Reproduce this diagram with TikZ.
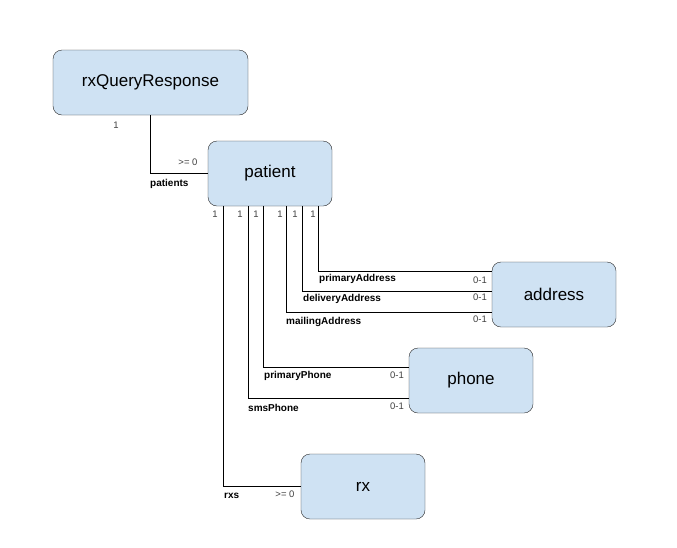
\documentclass[tikz,border=0pt]{standalone}
\usepackage{fontspec}
\setmainfont{Liberation Sans}
\usetikzlibrary{positioning}
\definecolor{boxfill}{HTML}{CFE2F3}
\tikzset{
  box/.style={draw=black!85, fill=boxfill, rounded corners=9pt, font=\fontsize{17}{20}\selectfont},
  lbl/.style={font=\bfseries\fontsize{10}{12}\selectfont, inner sep=1pt, anchor=west},
  card/.style={font=\fontsize{9.5}{11}\selectfont, text=black!75, inner sep=1pt}
}
\begin{document}
\begin{tikzpicture}[x=1pt, y=-1pt]
  \useasboundingbox (0,0) rectangle (677,547);
  \node[box, minimum width=195pt, minimum height=65pt] (resp) at (150.5,82.5) {rxQueryResponse};
  \node[box, minimum width=124pt, minimum height=65pt] (patient) at (270,173.5) {patient};
  \node[box, minimum width=124pt, minimum height=65pt] (address) at (554,294.5) {address};
  \node[box, minimum width=124pt, minimum height=65pt] (phone) at (471,380.5) {phone};
  \node[box, minimum width=124pt, minimum height=65pt] (rx) at (363,486.5) {rx};
  % patients
  \draw (resp.south) |- (patient.west);
  \node[card] at (116,125) {1};
  \node[card] at (188,162) {>= 0};
  \node[lbl] at (149,184) {patients};
  % addresses
  \draw ([xshift=110pt]patient.south west) |- ([yshift=23.5pt]address.west);
  \draw ([xshift=94pt]patient.south west) |- ([yshift=3.5pt]address.west);
  \draw ([xshift=78pt]patient.south west) |- ([yshift=-17.5pt]address.west);
  \node[lbl] at (318,279) {primaryAddress};
  \node[lbl] at (302,299) {deliveryAddress};
  \node[lbl] at (285,322) {mailingAddress};
  \node[card] at (480,280) {0-1};
  \node[card] at (480,297) {0-1};
  \node[card] at (480,319) {0-1};
  % phones
  \draw ([xshift=55pt]patient.south west) |- ([yshift=13.5pt]phone.west);
  \draw ([xshift=40pt]patient.south west) |- ([yshift=-17.5pt]phone.west);
  \node[lbl] at (263,376) {primaryPhone};
  \node[lbl] at (247,408) {smsPhone};
  \node[card] at (397,375) {0-1};
  \node[card] at (397,406) {0-1};
  % rxs
  \draw ([xshift=15pt]patient.south west) |- (rx.west);
  \node[lbl] at (223,496) {rxs};
  \node[card] at (285,494) {>= 0};
  % ones
  \foreach \x in {215, 240, 256, 280, 295, 313}
    \node[card] at (\x,214) {1};
\end{tikzpicture}
\end{document}
